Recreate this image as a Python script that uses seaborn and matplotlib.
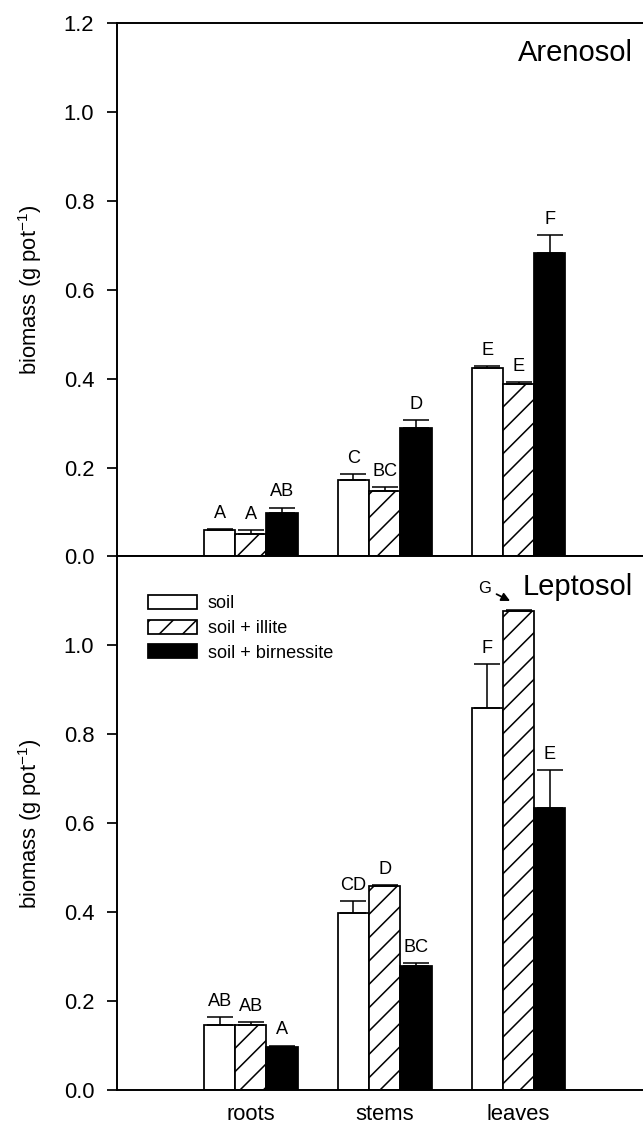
import numpy as np
import pandas as pd
import matplotlib
matplotlib.use('Agg')
import matplotlib.pyplot as plt
import seaborn as sns

# categories
organs = ['roots', 'stems', 'leaves']
treatments = ['soil', 'soil + illite', 'soil + birnessite']

# Arenosol means / standard errors (roots, stems, leaves)
aren_soil = [0.060, 0.171, 0.423]
aren_illite = [0.051, 0.147, 0.387]
aren_birn = [0.098, 0.288, 0.682]
aren_soil_err = [0.002, 0.015, 0.005]
aren_illite_err = [0.008, 0.009, 0.006]
aren_birn_err = [0.012, 0.018, 0.040]
aren_letters = [['A', 'C', 'E'], ['A', 'BC', 'E'], ['AB', 'D', 'F']]

# Leptosol means / standard errors
lept_soil = [0.147, 0.398, 0.859]
lept_illite = [0.147, 0.458, 1.077]
lept_birn = [0.097, 0.278, 0.634]
lept_soil_err = [0.017, 0.028, 0.100]
lept_illite_err = [0.006, 0.004, 0.003]
lept_birn_err = [0.003, 0.008, 0.086]
lept_letters = [['AB', 'CD', 'F'], ['AB', 'D', 'G'], ['A', 'BC', 'E']]

yticks_top = [0.0, 0.2, 0.4, 0.6, 0.8, 1.0, 1.2]
yticks_bottom = [0.0, 0.2, 0.4, 0.6, 0.8, 1.0]

sns.set_theme(style='ticks')
plt.rcParams['font.family'] = ['Liberation Sans', 'DejaVu Sans']
plt.rcParams['mathtext.default'] = 'regular'
plt.rcParams['hatch.linewidth'] = 0.8
for key in ['text.color', 'axes.labelcolor', 'xtick.color', 'ytick.color', 'axes.edgecolor']:
    plt.rcParams[key] = 'black'

DPI = 140
pal = {'soil': 'white', 'soil + illite': 'white', 'soil + birnessite': 'black'}


def make_df(soil, illite, birn):
    rows = []
    for trt, vals in zip(treatments, [soil, illite, birn]):
        for org, v in zip(organs, vals):
            rows.append({'organ': org, 'treatment': trt, 'biomass': v})
    return pd.DataFrame(rows)


def draw_panel(ax, df, errs, letters, arrow_label=None):
    sns.barplot(data=df, x='organ', y='biomass', hue='treatment', order=organs,
                hue_order=treatments, palette=pal, width=0.7, saturation=1,
                edgecolor='black', linewidth=0.9, errorbar=None, legend=False, ax=ax)
    for cont, trt, err, labs in zip(ax.containers, treatments, errs, letters):
        bars = sorted(cont.patches, key=lambda b: b.get_x())
        if trt == 'soil + illite':
            for b in bars:
                b.set_hatch('//')
        xs = np.array([b.get_x() + b.get_width() / 2 for b in bars])
        hs = np.array([b.get_height() for b in bars])
        ax.errorbar(xs, hs, yerr=[np.zeros(len(err)), err], fmt='none', ecolor='black',
                    elinewidth=0.8, capsize=6.5, capthick=0.8, zorder=3)
        for x, h, e, lab, b in zip(xs, hs, err, labs, bars):
            if arrow_label == lab:
                w = b.get_width()
                ax.annotate(lab, xy=(x - 0.27 * w, h + e + 0.02), xytext=(-13, 6.5),
                            textcoords='offset points', ha='center', va='center', fontsize=8.5,
                            arrowprops=dict(arrowstyle='-|>', color='black', lw=0.9,
                                            shrinkA=0.5, shrinkB=0, mutation_scale=9))
            else:
                ax.annotate(lab, xy=(x, h + e), xytext=(0, 5.7), textcoords='offset points',
                            ha='center', va='baseline', fontsize=9.3)


fig, (ax1, ax2) = plt.subplots(2, 1, sharex=True, figsize=(643 / DPI, 1125 / DPI))
fig.subplots_adjust(left=0.182, right=1.0, top=0.9796, bottom=0.0311, hspace=0)

draw_panel(ax1, make_df(aren_soil, aren_illite, aren_birn),
           [aren_soil_err, aren_illite_err, aren_birn_err], aren_letters)
draw_panel(ax2, make_df(lept_soil, lept_illite, lept_birn),
           [lept_soil_err, lept_illite_err, lept_birn_err], lept_letters, arrow_label='G')

for ax, ticks in [(ax1, yticks_top), (ax2, yticks_bottom)]:
    ax.set_ylim(0, 1.2)
    ax.set_yticks(ticks)
    ax.set_yticklabels([f'{t:.1f}' for t in ticks])
    ax.set_xlim(-1, 2.93)
    ax.set_ylabel('biomass (g pot$^{-1}$)', fontsize=11.3, labelpad=10)
    ax.set_xlabel('')
    ax.spines['right'].set_visible(False)
    for s in ['left', 'top', 'bottom']:
        ax.spines[s].set_linewidth(1.0)
    ax.tick_params(axis='y', direction='out', length=5.2, width=0.9, pad=6.5, labelsize=11.3)
    ax.tick_params(axis='x', length=0, pad=7, labelsize=11.3)

ax1.text(0.981, 0.944, 'Arenosol', transform=ax1.transAxes, ha='right', va='center', fontsize=15)
ax2.text(0.981, 0.942, 'Leptosol', transform=ax2.transAxes, ha='right', va='center', fontsize=15)

handles = [c.patches[0] for c in ax2.containers[:3]]
ax2.legend(handles, treatments, loc='upper left', bbox_to_anchor=(0.059, 0.928),
           frameon=False, borderpad=0, borderaxespad=0, fontsize=9.3,
           handlelength=2.7, handleheight=0.8, handletextpad=0.6, labelspacing=0.42)

fig.savefig('out.png', dpi=DPI)
